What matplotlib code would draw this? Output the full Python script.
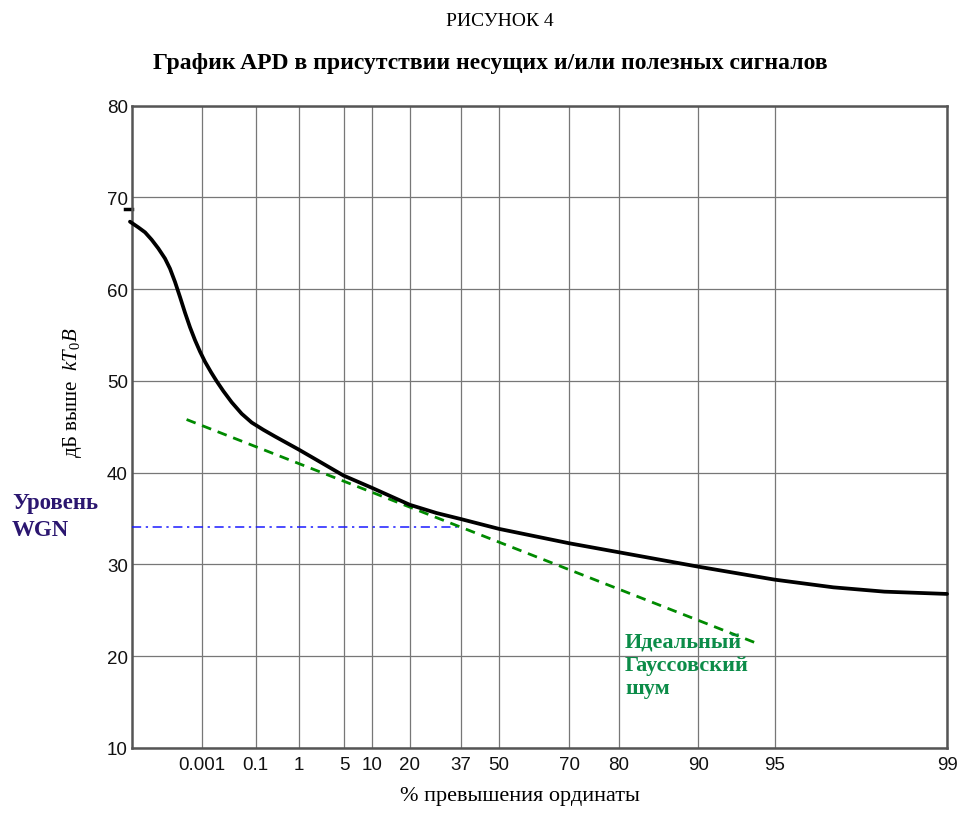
import numpy as np
import matplotlib
matplotlib.use("Agg")
import matplotlib.pyplot as plt
import matplotlib.transforms as mtransforms

plt.rcParams['mathtext.fontset'] = 'custom'
plt.rcParams['mathtext.it'] = 'Liberation Serif:italic'
plt.rcParams['mathtext.rm'] = 'Liberation Serif'

# ---- data ----
apd_percent = [1.41e-8, 7.9e-8, 2.87e-7, 9.4e-7, 2.9e-6, 8.4e-6, 1.78e-5, 3.66e-5, 7.27e-5,
               1.39e-4, 2.6e-4, 4.7e-4, 8.3e-4, 1.42e-3, 2.65e-3, 4.57e-3, 8.4e-3,
               0.0171, 0.0374, 0.0763, 0.161, 0.316, 0.624, 0.986, 1.82, 4.89, 10, 20, 28.7,
               37, 50, 70, 80, 90, 95, 97.1, 98.2, 99]
apd_db = [67.36, 66.74, 66.20, 65.40, 64.45, 63.35, 62.25, 60.80, 59.15,
          57.45, 55.85, 54.45, 53.20, 52.10, 50.95, 49.97, 48.90,
          47.68, 46.43, 45.47, 44.68, 43.95, 43.15, 42.55, 41.60, 39.70, 38.35, 36.50, 35.60,
          34.95, 33.88, 32.31, 31.33, 29.76, 28.35, 27.51, 27.04, 26.79]

gauss_percent = [1.7e-4, 94.0]
gauss_db = [45.8, 21.5]

wgn_percent = [2.17e-8, 37]
wgn_db = [34.1, 34.1]

marker_db = 68.75

xtick_values = [0.001, 0.1, 1, 5, 10, 20, 37, 50, 70, 80, 90, 95, 99]
xtick_labels = ['0.001', '0.1', '1', '5', '10', '20', '37', '50', '70', '80', '90', '95', '99']
ytick_values = [10, 20, 30, 40, 50, 60, 70, 80]

# ---- Rayleigh-paper scale ----
def fwd(p):
    p = np.asarray(p, dtype=float)
    with np.errstate(all='ignore'):
        return -np.log10(-np.log(p / 100.0))

def inv(u):
    u = np.asarray(u, dtype=float)
    with np.errstate(all='ignore'):
        return 100.0 * np.exp(-10.0 ** (-u))

W, H = 959, 820
fig = plt.figure(figsize=(W / 100, H / 100), dpi=100)
ax = fig.add_axes([132 / W, 1 - 749 / H, (947 - 132) / W, (749 - 106.7) / H])
ax.set_xscale('function', functions=(fwd, inv))
ax.set_xlim(2.17e-8, 99)
ax.set_ylim(10, 80)

ax.set_xticks(xtick_values)
ax.set_xticklabels(xtick_labels)
ax.set_yticks(ytick_values)
ax.xaxis.set_minor_locator(matplotlib.ticker.NullLocator())
ax.tick_params(axis='both', length=0, labelsize=13.5, labelcolor='#111111')
ax.tick_params(axis='x', pad=6)
ax.tick_params(axis='y', pad=3)
for lab in ax.get_xticklabels() + ax.get_yticklabels():
    lab.set_family('Liberation Sans')

ax.grid(True, color='#777777', linewidth=0.9)
ax.set_axisbelow(True)
for s in ax.spines.values():
    s.set_color('#555555')
    s.set_linewidth(1.8)

ax.plot(apd_percent, apd_db, color='black', linewidth=2.7, solid_joinstyle='round',
        solid_capstyle='round', zorder=5, clip_on=False)
ax.plot(gauss_percent, gauss_db, color='#008a00', linewidth=2.0, linestyle=(0, (3.5, 2.5)), zorder=4)
ax.plot(wgn_percent, wgn_db, color='#1a1aff', linewidth=1.1, linestyle=(0, (6, 3, 1.5, 3)), zorder=3)

trans = mtransforms.blended_transform_factory(ax.transAxes, ax.transData)
ax.plot([-0.009, 0.0], [marker_db, marker_db], color='black', linewidth=2.5, transform=trans, clip_on=False)

def ftext(x, y, s, **kw):
    fig.text(x / W, 1 - y / H, s, **kw)

serif = 'Liberation Serif'
ftext(500, 22, 'РИСУНОК 4', family=serif, fontsize=14, ha='center', va='center')
ftext(490, 63, 'График APD в присутствии несущих и/или полезных сигналов',
      family=serif, fontsize=17, fontweight='bold', ha='center', va='center')
ftext(520, 797, '% превышения ординаты', family=serif, fontsize=16, ha='center', va='center')
ftext(72, 393, 'дБ выше  $kT_{\\mathit{0}}B$', family=serif, fontsize=15, rotation=90,
      ha='center', va='center')
purple = '#2b1670'
green = '#0b8c48'
ftext(12, 503, 'Уровень', family=serif, fontsize=16.5, fontweight='bold', color=purple,
      ha='left', va='center')
ftext(12, 530, 'WGN', family=serif, fontsize=16.5, fontweight='bold', color=purple,
      ha='left', va='center')
ftext(625, 643, 'Идеальный', family=serif, fontsize=16, fontweight='bold', color=green,
      ha='left', va='center')
ftext(625, 666, 'Гауссовский', family=serif, fontsize=16, fontweight='bold', color=green,
      ha='left', va='center')
ftext(625, 689, 'шум', family=serif, fontsize=16, fontweight='bold', color=green,
      ha='left', va='center')

fig.savefig('out.png', dpi=100, facecolor='white')
